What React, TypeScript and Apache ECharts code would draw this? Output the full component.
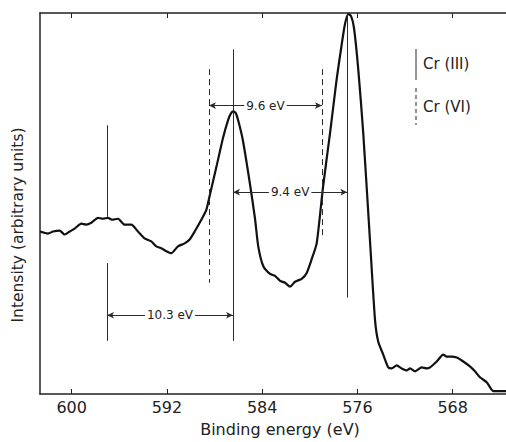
import React, { useEffect, useRef } from "react";
import * as echarts from "echarts";

// Binding energy (eV) and intensity (arbitrary units)
const energy = [602.66, 601.99, 601.57, 601.01, 600.59, 600.17, 599.75, 599.19, 598.77, 598.35, 597.79, 597.37, 596.95, 596.62, 596.11, 595.55, 594.99, 594.43, 593.87, 593.31, 592.89, 592.47, 592.05, 591.63, 591.07, 590.51, 590.09, 589.67, 589.11, 588.69, 588.38, 587.8, 587.29, 586.87, 586.62, 586.41, 586.2, 585.95, 585.61, 585.02, 584.6, 584.33, 583.91, 583.34, 582.92, 582.5, 582.08, 581.66, 581.24, 580.68, 580.26, 579.84, 579.42, 578.89, 578.3, 577.74, 577.32, 577.04, 576.77, 576.54, 576.29, 575.93, 575.51, 574.94, 574.52, 574.25, 573.83, 573.41, 573.12, 572.7, 572.28, 571.86, 571.58, 571.16, 570.6, 570.18, 569.9, 569.34, 568.79, 568.5, 568.08, 567.66, 567.11, 566.55, 566.13, 565.71, 565.14, 564.59, 564.03, 563.52];
const intensity = [165, 163, 165, 166, 162, 165, 168, 173, 172, 174, 179, 178, 179, 177, 178, 172, 172, 165, 158, 155, 150, 148, 145, 143, 150, 153, 157, 165, 177, 187, 203, 233, 260, 278, 285, 287, 285, 275, 257, 213, 178, 150, 130, 122, 120, 115, 113, 109, 114, 117, 123, 137, 153, 210, 265, 320, 355, 376, 386, 384, 372, 330, 265, 155, 75, 53, 40, 27, 26, 29, 26, 24, 26, 23, 27, 26, 27, 33, 40, 38, 38, 37, 33, 28, 23, 17, 12, 3, 3, 3];

const tickValues = [600, 592, 584, 576, 568];
const xMin = 563.52;
const xMax = 602.66;
const yMax = 387;

// Cr(III) solid lines: [energy, yTop, yBottom]
const cr3Lines = [
  [597.03, 273, 180],
  [597.03, 133, 54],
  [586.45, 350, 54],
  [576.85, 387, 98],
];
// Cr(VI) dashed lines
const cr6Lines = [
  [588.47, 330, 113],
  [578.98, 330, 160],
];
// Separations: [from, to, y, label]
const separations: [number, number, number, string][] = [
  [588.47, 578.98, 293, "9.6 eV"],
  [586.45, 576.85, 205, "9.4 eV"],
  [597.03, 586.45, 80, "10.3 eV"],
];

const FONT = "DejaVu Sans";

export default function App() {
  const ref = useRef<HTMLDivElement>(null);
  useEffect(() => {
    if (!ref.current) return;
    const chart = echarts.init(ref.current, null, { renderer: "svg" });
    const data = energy.map((e, i) => [e, intensity[i]]);
    const lineColor = "#2a2a2a";
    const markData: any[] = [];
    cr3Lines.forEach(([x, y1, y2]) => {
      markData.push([
        { coord: [x, y1], symbol: "none", lineStyle: { type: "solid", width: 1, color: lineColor } },
        { coord: [x, y2], symbol: "none" },
      ]);
    });
    cr6Lines.forEach(([x, y1, y2]) => {
      markData.push([
        { coord: [x, y1], symbol: "none", lineStyle: { type: [6, 4], width: 1, color: lineColor } },
        { coord: [x, y2], symbol: "none" },
      ]);
    });
    separations.forEach(([a, b, y, txt]) => {
      markData.push([
        {
          coord: [a, y],
          symbol: "arrow",
          symbolSize: [5, 7],
          lineStyle: { type: "solid", width: 1, color: lineColor },
          label: {
            show: true,
            position: "middle",
            formatter: txt,
            distance: 0,
            verticalAlign: "middle",
            backgroundColor: "#fff",
            padding: [0, 2],
            fontFamily: FONT,
            fontSize: 12,
            color: "#222",
          },
        },
        { coord: [b, y], symbol: "arrow", symbolSize: [5, 7] },
      ]);
    });

    const axisBase = {
      type: "value" as const,
      min: xMin,
      max: xMax,
      inverse: true,
      splitLine: { show: false },
      axisLine: { show: true, onZero: false, lineStyle: { color: "#222", width: 1.5 } },
    };

    chart.setOption({
      animation: false,
      backgroundColor: "#fff",
      grid: { left: 40, right: 0, top: 13, bottom: 42 },
      xAxis: [
        {
          ...axisBase,
          position: "bottom",
          name: "Binding energy (eV)",
          nameLocation: "middle",
          nameGap: 27,
          nameTextStyle: { fontFamily: FONT, fontSize: 16, color: "#222", padding: [0, 0, 0, 14] },
          axisTick: { show: true, inside: true, length: 5, customValues: tickValues, lineStyle: { color: "#222" } },
          axisLabel: { show: true, customValues: tickValues, fontFamily: FONT, fontSize: 16, color: "#222", margin: 5 },
        },
        {
          ...axisBase,
          position: "top",
          axisTick: { show: true, inside: true, length: 5, customValues: tickValues, lineStyle: { color: "#222" } },
          axisLabel: { show: false },
        },
      ],
      yAxis: {
        type: "value",
        min: 0,
        max: yMax,
        axisLine: { show: true, lineStyle: { color: "#222", width: 1.5 } },
        axisTick: { show: false },
        axisLabel: { show: false },
        splitLine: { show: false },
      },
      series: [
        {
          type: "line",
          data,
          symbol: "none",
          smooth: 0.2,
          lineStyle: { color: "#111", width: 2.2 },
          silent: true,
          markLine: {
            silent: true,
            symbol: "none",
            animation: false,
            label: { show: false },
            data: markData,
          },
        },
      ],
      graphic: [
        {
          type: "text",
          x: 18,
          y: 225,
          rotation: Math.PI / 2,
          style: { text: "Intensity (arbitrary units)", fontFamily: FONT, fontSize: 15.5, fill: "#222", align: "center", verticalAlign: "middle" },
        },
        { type: "line", shape: { x1: 416, y1: 49, x2: 416, y2: 80 }, style: { stroke: lineColor, lineWidth: 1 } },
        { type: "text", x: 423, y: 64, style: { text: "Cr (III)", fontFamily: FONT, fontSize: 15, fill: "#222", verticalAlign: "middle" } },
        { type: "line", shape: { x1: 416, y1: 88, x2: 416, y2: 125 }, style: { stroke: lineColor, lineWidth: 1, lineDash: [4, 3] } },
        { type: "text", x: 423, y: 107, style: { text: "Cr (VI)", fontFamily: FONT, fontSize: 15, fill: "#222", verticalAlign: "middle" } },
      ],
    });
    return () => chart.dispose();
  }, []);
  return <div ref={ref} style={{ position: "fixed", left: 0, top: 0, width: 506, height: 442 }} />;
}
